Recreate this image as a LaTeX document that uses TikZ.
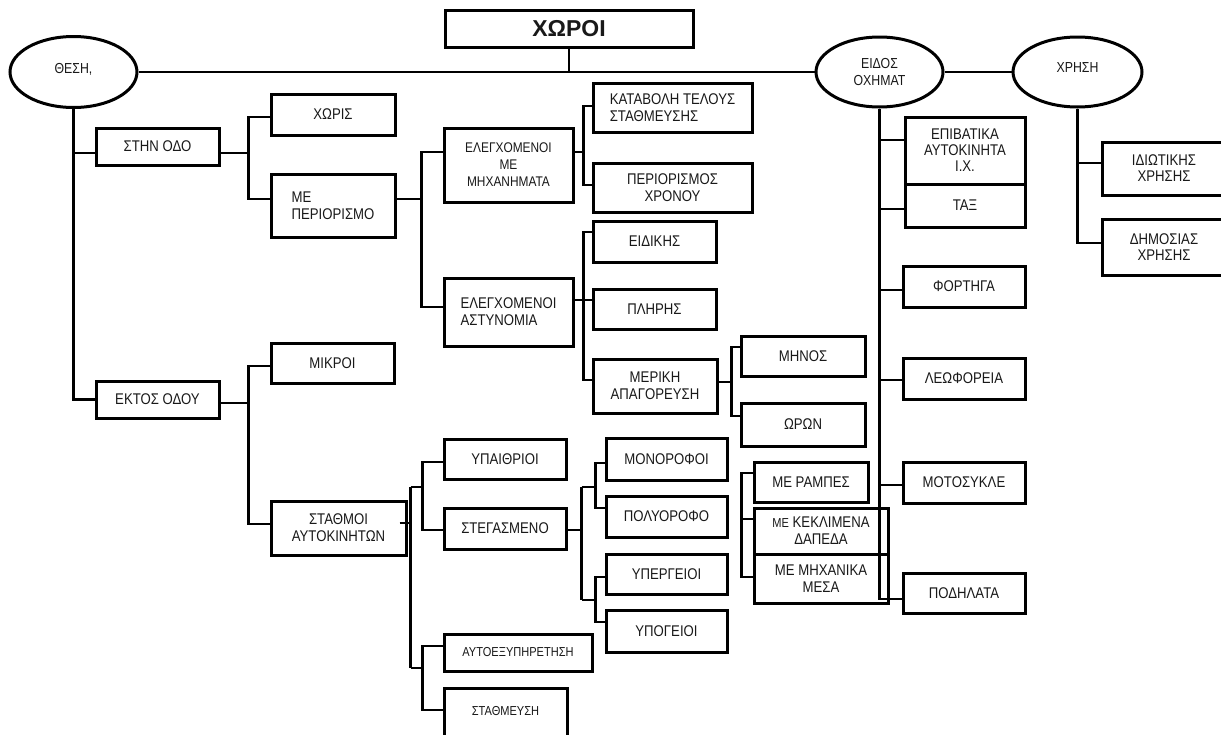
\documentclass[tikz,border=0pt]{standalone}
\usepackage{fontspec}
\setmainfont{Liberation Sans}[FakeStretch=0.85]
\newfontfamily\titlefont{Liberation Sans}
\usetikzlibrary{shapes.geometric,calc}
\newcommand\nf{\fontsize{15.5}{17}\selectfont}
\newcommand\smallf{\fontsize{13}{16}\selectfont}
\newcommand\ovf{\fontsize{14.5}{20}\selectfont}
\newcommand\bx[7][]{\node[box,minimum width={(#5-#3)*1pt},minimum height={(#6-#4)*1pt},#1] (#2) at ({(#3+#5)/2},{(#4+#6)/2}) {#7};}
\begin{document}
\begin{tikzpicture}[x=1pt,y=-1pt,
  box/.style={draw=black,line width=3pt,inner sep=0pt,align=center,font=\nf,text=black!90},
  oval/.style={draw=black,ellipse,line width=3pt,inner sep=0pt,align=center,font=\ovf,text=black!90},
  conn/.style={draw=black,line width=2.8pt}]
\useasboundingbox (0,0) rectangle (1221,734);
\fill[white] (0,0) rectangle (1221,734);
\clip (0,0) rectangle (1221,734);

% ---- top level
\bx[font={\titlefont\fontsize{23}{26}\selectfont\bfseries}]{chori}{445}{10}{693}{47}{ΧΩΡΟΙ}
\node[oval,minimum width=127pt,minimum height=71pt] (theta) at (73.5,72) {\raisebox{7pt}{ΘΕΣΗ,}};
\node[oval,minimum width=127pt,minimum height=70pt] (eidos) at (879.5,72) {\raisebox{-3pt}{\shortstack{ΕΙΔΟΣ\\[3pt]ΟΧΗΜΑΤ}}};
\node[oval,minimum width=129pt,minimum height=70pt] (xrisi) at (1077.5,72) {\raisebox{9pt}{ΧΡΗΣΗ}};

% ---- left branch
\bx{stin}{96}{128}{219}{165}{ΣΤΗΝ ΟΔΟ}
\bx{xoris}{271}{94}{395}{135}{ΧΩΡΙΣ}
\bx[align=left]{meperi}{271}{174}{395}{237}{ΜΕ\\ΠΕΡΙΟΡΙΣΜΟ}
\bx[font=\fontsize{14}{17}\selectfont]{elmix}{444}{128}{573}{202}{ΕΛΕΓΧΟΜΕΝΟΙ\\ΜΕ\\ΜΗΧΑΝΗΜΑΤΑ}
\bx[align=left]{elast}{444}{278}{573}{346}{ΕΛΕΓΧΟΜΕΝΟΙ\\ΑΣΤΥΝΟΜΙΑ}
\bx[align=left]{katav}{593}{83}{752}{132}{ΚΑΤΑΒΟΛΗ ΤΕΛΟΥΣ\\ΣΤΑΘΜΕΥΣΗΣ}
\bx{perxr}{593}{163}{752}{212}{ΠΕΡΙΟΡΙΣΜΟΣ\\ΧΡΟΝΟΥ}
\bx{eidik}{593}{221}{716}{262}{ΕΙΔΙΚΗΣ}
\bx{plir}{593}{289}{716}{329}{ΠΛΗΡΗΣ}
\bx{merik}{593}{359}{717}{413}{ΜΕΡΙΚΗ\\ΑΠΑΓΟΡΕΥΣΗ}
\bx{minos}{741}{336}{865}{376}{ΜΗΝΟΣ}
\bx{oron}{741}{403}{865}{446}{ΩΡΩΝ}
\bx{ektos}{96}{381}{219}{418}{ΕΚΤΟΣ ΟΔΟΥ}
\bx{mikroi}{271}{343}{394}{383}{ΜΙΚΡΟΙ}
\bx{stathmoi}{271}{501}{406}{555}{ΣΤΑΘΜΟΙ\\ΑΥΤΟΚΙΝΗΤΩΝ}
\bx{ypaith}{444}{439}{566}{479}{ΥΠΑΙΘΡΙΟΙ}
\bx{steg}{444}{508}{566}{549}{ΣΤΕΓΑΣΜΕΝΟ}
\bx[font=\smallf]{autoex}{444}{634}{592}{671}{ΑΥΤΟΕΞΥΠΗΡΕΤΗΣΗ}
\bx[font=\smallf]{stathm}{444}{688}{567}{740}{\raisebox{6pt}{ΣΤΑΘΜΕΥΣΗ}}
\bx{mono}{606}{438}{727}{480}{ΜΟΝΟΡΟΦΟΙ}
\bx{poly}{606}{496}{727}{537}{ΠΟΛΥΟΡΟΦΟ}
\bx{yperg}{606}{554}{727}{594}{ΥΠΕΡΓΕΙΟΙ}
\bx{ypog}{606}{610}{727}{652}{ΥΠΟΓΕΙΟΙ}
\bx{rampes}{754}{462}{868}{502}{ΜΕ ΡΑΜΠΕΣ}
\bx{kekl}{754}{508}{888}{554}{{\smallf ΜΕ} ΚΕΚΛΙΜΕΝΑ\\ΔΑΠΕΔΑ}
\bx{mixan}{754}{554}{888}{603}{ΜΕ ΜΗΧΑΝΙΚΑ\\ΜΕΣΑ}

% ---- vehicle type
\bx[font=\fontsize{15.5}{16}\selectfont]{epib}{905}{117}{1025}{184}{ΕΠΙΒΑΤΙΚΑ\\ΑΥΤΟΚΙΝΗΤΑ\\Ι.Χ.}
\bx{tax}{905}{184}{1025}{227}{ΤΑΞ}
\bx{fort}{903}{266}{1025}{307}{ΦΟΡΤΗΓΑ}
\bx{leof}{903}{358}{1025}{399}{ΛΕΩΦΟΡΕΙΑ}
\bx{moto}{903}{462}{1025}{503}{ΜΟΤΟΣΥΚΛΕ}
\bx{podil}{903}{573}{1025}{613}{ΠΟΔΗΛΑΤΑ}

% ---- use
\bx[font=\fontsize{15.5}{16}\selectfont]{idiot}{1102}{142}{1226}{195}{ΙΔΙΩΤΙΚΗΣ\\ΧΡΗΣΗΣ}
\bx[font=\fontsize{15.5}{16}\selectfont]{dimos}{1102}{219}{1226}{275}{ΔΗΜΟΣΙΑΣ\\ΧΡΗΣΗΣ}

% ================= connectors
\draw[conn] (theta.east) -- (eidos.west);
\draw[conn] (eidos.east) -- (xrisi.west);
\draw[conn] (chori.south) -- (chori.south |- theta.east);

% theta trunk
\draw[conn] (theta.south) |- (ektos.west);
\coordinate (t1) at ($(stin.west)+(0,6.5)$);
\draw[conn] (t1) -- (t1 -| theta.south);

% stin bracket
\draw[conn] ($(stin.east)+(0,6.5)$) -- ++(28,0) coordinate (b1);
\draw[conn] ($(xoris.west)+(0,2.5)$) -| (b1);
\draw[conn] ($(meperi.west)+(0,-6.5)$) -| (b1);

% ektos bracket
\draw[conn] ($(ektos.east)+(0,3.5)$) -- ++(28,0) coordinate (b2);
\draw[conn] ($(mikroi.west)+(0,3)$) -| (b2);
\draw[conn] ($(stathmoi.west)+(0,-4)$) -| (b2);

% meperi bracket
\draw[conn] ($(meperi.east)+(0,-6.5)$) -- ++(25,0) coordinate (b3);
\draw[conn] ($(elmix.west)+(0,-13)$) -| (b3);
\draw[conn] ($(elast.west)+(0,-5)$) -| (b3);

% elmix bracket
\draw[conn] ($(elmix.east)+(0,-13)$) -- ++(9,0) coordinate (b4);
\draw[conn] ($(katav.west)+(0,-1.5)$) -| (b4);
\draw[conn] ($(perxr.west)+(0,-2.5)$) -| (b4);

% elast bracket
\draw[conn] ($(elast.east)+(0,-12)$) -- ++(9,0) coordinate (b5);
\draw[conn] ($(eidik.west)+(0,-9.5)$) -| (b5);
\draw[conn] ($(plir.west)+(0,-9)$) -| (b5);
\draw[conn] ($(merik.west)+(0,-6)$) -| (b5);

% merik bracket
\draw[conn] ($(merik.east)+(0,-4)$) -- ++(13,0) coordinate (b6);
\draw[conn] ($(minos.west)+(0,-9)$) -| (b6);
\draw[conn] ($(oron.west)+(0,-8.5)$) -| (b6);

% stathmoi trunk
\draw[conn] ($(stathmoi.east)+(-8,-5)$) -- ++(11,0) coordinate (b7);
\coordinate (t7a) at ($(b7)+(0,-36)$);
\coordinate (t7b) at ($(b7)+(0,145)$);
\draw[conn] (t7a) -- (t7b);
\draw[conn] (t7a) -- ++(12,0) coordinate (b8);
\draw[conn] ($(ypaith.west)+(0,3)$) -| (b8);
\draw[conn] ($(steg.west)+(0,1.5)$) -| (b8);
\draw[conn] (t7b) -- ++(12,0) coordinate (b9);
\draw[conn] ($(autoex.west)+(0,-6.5)$) -| (b9);
\draw[conn] ($(stathm.west)+(0,-4)$) -| (b9);

% steg trunk
\draw[conn] ($(steg.east)+(0,1.5)$) -- ++(14,0) coordinate (b10);
\coordinate (t10a) at ($(b10)+(0,-43)$);
\coordinate (t10b) at ($(b10)+(0,70)$);
\draw[conn] (t10a) -- (t10b);
\draw[conn] (t10a) -- ++(14,0) coordinate (b11);
\draw[conn] ($(mono.west)+(0,4)$) -| (b11);
\draw[conn] ($(poly.west)+(0,-8.5)$) -| (b11);
\draw[conn] (t10b) -- ++(14,0) coordinate (b12);
\draw[conn] ($(yperg.west)+(0,3)$) -| (b12);
\draw[conn] ($(ypog.west)+(0,-9)$) -| (b12);

% floating ramp bracket
\draw[conn] ($(rampes.west)+(0,-9)$) -- ++(-11,0) coordinate (fb) |- ($(mixan.west)+(0,-1.5)$);
\draw[conn] ($(kekl.west)+(0,-12)$) -- ++(-11,0);

% vehicle trunk
\draw[conn] (eidos.south) |- ($(podil.west)+(0,6)$);
\coordinate (e1) at ($(epib.west)+(0,-10.5)$);
\draw[conn] (e1) -- (e1 -| eidos.south);
\coordinate (e2) at ($(tax.west)+(0,3.5)$);
\draw[conn] (e2) -- (e2 -| eidos.south);
\coordinate (e3) at ($(fort.west)+(0,3.5)$);
\draw[conn] (e3) -- (e3 -| eidos.south);
\coordinate (e4) at ($(leof.west)+(0,1.5)$);
\draw[conn] (e4) -- (e4 -| eidos.south);
\coordinate (e5) at ($(moto.west)+(0,2.5)$);
\draw[conn] (e5) -- (e5 -| eidos.south);

% use trunk
\draw[conn] (xrisi.south) |- ($(dimos.west)+(0,-4)$);
\coordinate (x1) at ($(idiot.west)+(0,-5.5)$);
\draw[conn] (x1) -- (x1 -| xrisi.south);
\end{tikzpicture}
\end{document}
